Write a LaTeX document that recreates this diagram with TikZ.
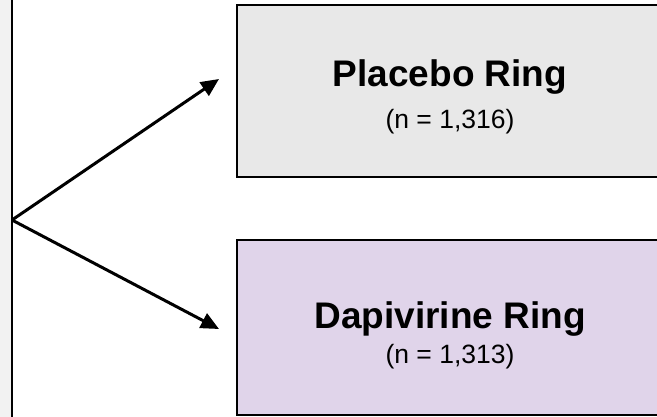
\documentclass[tikz,border=0pt]{standalone}
\usepackage{fontspec}
\setmainfont{Liberation Sans}
\usetikzlibrary{arrows.meta}
\definecolor{srcfill}{HTML}{F2F2F2}
\definecolor{placebofill}{HTML}{E8E8E8}
\definecolor{dapfill}{HTML}{E0D4EA}
\tikzset{
  armbox/.style={draw=black, line width=2pt, rectangle, inner sep=0pt},
  armtitle/.style={anchor=base, inner sep=0pt, font=\fontsize{37}{40}\selectfont\bfseries},
  armcount/.style={anchor=base, inner sep=0pt, font=\fontsize{26.5}{28}\selectfont},
  splitarrow/.style={line width=3pt, -{Triangle[length=18pt,width=16pt]}}
}
\begin{document}
\begin{tikzpicture}[x=1pt, y=-1pt]
  \clip (0,0) rectangle (657,416);
  \fill[white] (0,0) rectangle (657,416);
  % enrolment box on the left edge
  \node[armbox, fill=srcfill, minimum width=60pt, minimum height=440pt] (enrol) at (-18,208) {};
  \coordinate (split) at (12,220);
  % treatment arms
  \node[armbox, fill=placebofill, minimum width=440pt, minimum height=172.5pt] (placebo) at (457,90.75) {};
  \node[armbox, fill=dapfill, minimum width=440pt, minimum height=174.5pt] (dap) at (457,327.25) {};
  \node[armtitle] (placeboT) at (450,86.5) {Placebo Ring};
  \node[armcount] (placeboN) at (450,128) {(n = 1,316)};
  \node[armtitle] (dapT) at (450,328) {Dapivirine Ring};
  \node[armcount] (dapN) at (450,363) {(n = 1,313)};
  % randomisation arrows
  \coordinate (tipA) at (219,79);
  \coordinate (tipB) at (219,329);
  \draw[splitarrow] (split) -- (tipA);
  \draw[splitarrow] (split) -- (tipB);
\end{tikzpicture}
\end{document}
